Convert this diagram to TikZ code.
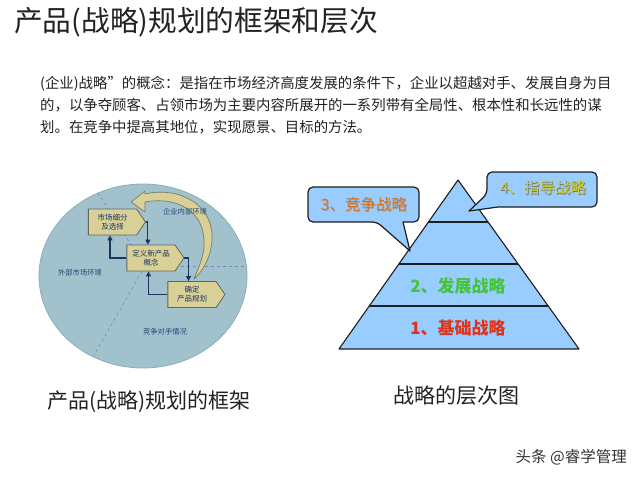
\documentclass[tikz,border=0pt]{standalone}
\usepackage{fontspec}
\setmainfont{Noto Sans CJK SC}
\usetikzlibrary{shapes.symbols,arrows.meta,calc}
\definecolor{circfill}{RGB}{161,193,204}
\definecolor{circedge}{RGB}{140,172,184}
\definecolor{boxfill}{RGB}{216,208,150}
\definecolor{boxedge}{RGB}{96,104,90}
\definecolor{navy}{RGB}{28,52,96}
\definecolor{labelblue}{RGB}{36,70,120}
\definecolor{pyrfill}{RGB}{153,204,255}
\definecolor{pyredge}{RGB}{30,30,30}
\definecolor{txtdark}{RGB}{34,34,34}
\definecolor{orangetxt}{RGB}{214,112,30}
\definecolor{yellowtxt}{RGB}{204,204,40}
\definecolor{greentxt}{RGB}{70,196,60}
\definecolor{redtxt}{RGB}{222,52,28}
\tikzset{
  stepbox/.style={signal, signal to=east, signal pointer angle=112, draw=boxedge, fill=boxfill,
    line width=0.8pt, minimum width=57pt, minimum height=26pt, inner sep=0pt,
    align=center, text=navy, font=\fontsize{7.5}{9}\selectfont},
  flow/.style={draw=navy, line width=1.1pt, -{Triangle[length=5pt,width=5pt]}},
  envlabel/.style={text=labelblue, font=\fontsize{7.3}{9}\selectfont, inner sep=0pt},
  callout/.style={draw=pyredge, fill=pyrfill, line width=1.2pt, line join=round},
  para/.style={anchor=west, inner sep=0pt, text=txtdark, font=\fontsize{14.4}{16}\selectfont},
  caption/.style={inner sep=0pt, text=txtdark, font=\fontsize{21}{23}\selectfont}
}
\begin{document}
\begin{tikzpicture}[x=1pt,y=-1pt]
\useasboundingbox[fill=white] (0,0) rectangle (640,479);

% title
\node[anchor=west, inner sep=0pt, text=txtdark, font=\fontsize{28.7}{30}\selectfont] (title) at (14,22) {产品(战略)规划的框架和层次};

% paragraph
\node[para] (p1) at (40,84) {(企业)战略"的概念：是指在市场经济高度发展的条件下，企业以超越对手、发展自身为目};
\node[para] (p2) at (40,105) {的，以争夺顾客、占领市场为主要内容所展开的一系列带有全局性、根本性和长远性的谋};
\node[para] (p3) at (40,127) {划。在竞争中提高其地位，实现愿景、目标的方法。};

% ---- left framework circle ----
\coordinate (cc) at (143,276);
\coordinate (hub) at (145,266);
\fill[circfill] (cc) ellipse [x radius=104, y radius=92];
\begin{scope}
  \clip (cc) ellipse [x radius=104, y radius=92];
  \draw[dashed, draw=circedge!80!blue, line width=0.6pt] (hub) -- (96,190);
  \draw[dashed, draw=circedge!80!blue, line width=0.6pt] (hub) -- (93,357);
  \draw[dashed, draw=circedge!80!blue, line width=0.6pt] (hub) -- (250,266);
\end{scope}
\draw[circedge, line width=0.8pt] (cc) ellipse [x radius=104, y radius=92];

% big curved arrow
\filldraw[fill=boxfill, draw=boxedge!80!boxfill, line width=0.7pt, line join=round]
  (145,194) .. controls (180,186) and (214,205) .. (212,240)
  .. controls (211,258) and (202,272) .. (194,279)
  .. controls (199,266) and (205,255) .. (204,240)
  .. controls (203,212) and (178,196) .. (145,202)
  -- (145,212) -- (131,202) -- (145,191) -- cycle;

\node[envlabel] (inner) at (185,212) {企业内部环境};
\node[envlabel] (outer) at (80,273) {外部市场环境};
\node[envlabel] (comp) at (165,332) {竞争对手情况};

\node[stepbox] (b1) at (112.5,222) {市场细分\\及选择};
\node[stepbox] (b2) at (151,258) {定义新产品\\概念};
\node[stepbox] (b3) at (192,294.5) {确定\\产品规划};

\coordinate (k1) at ($(b1.east)+(2,0)$);
\draw[draw=navy, line width=1.1pt] (b1.east) -- (k1);
\draw[flow] (k1) -- (k1 |- b2.north);
\draw[flow] (b2.west) -| ([xshift=22pt]b1.south west);
\draw[flow] (b2.east) -| ([xshift=21pt]b3.north west);
\draw[flow] (b3.west) -| ([xshift=22pt]b2.south west);

\node[caption] (cap1) at (149,402) {产品(战略)规划的框架};

% ---- right pyramid ----
\coordinate (apex) at (458,180);
\coordinate (bl) at (339,349);
\coordinate (br) at (579,349);
\filldraw[fill=pyrfill, draw=pyredge, line width=1.1pt, line join=round] (apex) -- (bl) -- (br) -- cycle;
\foreach \f in {0.2485,0.497,0.7456}{
  \draw[pyredge, line width=1.1pt] ($(apex)!\f!(bl)$) -- ($(apex)!\f!(br)$);
}
\node[inner sep=0pt, text=greentxt, font=\fontsize{17}{19}\selectfont\bfseries] (lv2) at (458,286) {2、发展战略};
\node[inner sep=0pt, text=redtxt, font=\fontsize{17}{19}\selectfont\bfseries] (lv1) at (458,328) {1、基础战略};

% callout 3
\draw[callout, rounded corners=5pt] (377,222) [sharp corners] -- (410,251) -- (403,222) [rounded corners=5pt] -- (419,222) -- (419,187) -- (308,187) -- (308,222) -- cycle;
\node[inner sep=0pt, text=gray!70, font=\fontsize{15.5}{17}\selectfont] (c3s) at (364.8,205.2) {3、竞争战略};
\node[inner sep=0pt, text=orangetxt, font=\fontsize{15.5}{17}\selectfont] (c3) at (364,204.5) {3、竞争战略};

% callout 4
\draw[callout, rounded corners=5pt] (487,194) [sharp corners] -- (469,211) -- (498,207) [rounded corners=5pt] -- (597,207) -- (597,172) -- (487,172) -- cycle;
\node[inner sep=0pt, text=black!55, font=\fontsize{15.5}{17}\selectfont] (c4s) at (543.8,188.2) {4、指导战略};
\node[inner sep=0pt, text=yellowtxt, font=\fontsize{15.5}{17}\selectfont] (c4) at (543,187.5) {4、指导战略};

\node[caption] (cap2) at (456,396) {战略的层次图};

% watermark
\node[inner sep=0pt, anchor=east, text=black!80, font=\fontsize{15.5}{17}\selectfont] (wm) at (627,457) {头条 @睿学管理};
\end{tikzpicture}
\end{document}
